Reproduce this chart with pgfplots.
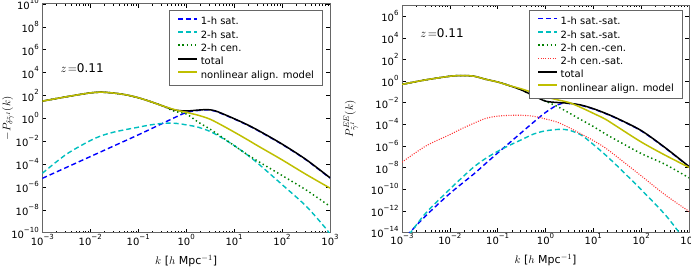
\documentclass[border=0pt]{standalone}
\usepackage{fontspec}
\setmainfont{DejaVu Sans}
\usepackage{pgfplots}
\pgfplotsset{compat=1.18}

\definecolor{cBlue}{rgb}{0,0,1}
\definecolor{cCyan}{rgb}{0,0.75,0.75}
\definecolor{cGreen}{rgb}{0,0.5,0}
\definecolor{cRed}{rgb}{1,0.2,0.2}
\definecolor{cYellow}{rgb}{0.75,0.75,0}
\definecolor{spine}{gray}{0.4}

% tick label: 10 with a raised exponent
\newcommand{\tk}[1]{10\raisebox{0.62em}{\fontsize{7}{7}\selectfont#1}}

\tikzset{
  sat1/.style={cBlue, line width=1.4pt, dash pattern=on 5pt off 3pt},
  sat2/.style={cCyan, line width=1.4pt, dash pattern=on 5pt off 3pt},
  cen2/.style={cGreen, line width=1.5pt, dash pattern=on 1.4pt off 2.8pt},
  censat/.style={cRed, line width=1.1pt, dash pattern=on 1pt off 1.4pt},
  tot/.style={black, line width=1.5pt},
  nla/.style={cYellow, line width=1.5pt},
}

\pgfplotsset{
  legend image code/.code={\path (0pt,0pt) (19pt,7pt); \draw[#1, line width=1.7pt] (0pt,3.5pt) -- (19pt,3.5pt);},
  every axis/.append style={
    scale only axis,
    xmin=1e-3, xmax=1e3,
    xtick={1e-3,1e-2,1e-1,1,1e1,1e2,1e3},
    xticklabels={\tk{−3},\tk{−2},\tk{−1},\tk{0},\tk{1},\tk{2},\tk{3}},
    tick align=inside,
    axis line style={spine, line width=0.9pt},
    major tick length=4pt, minor tick length=2pt,
    every tick/.style={black, line width=0.5pt},
    tick label style={font=\fontsize{10}{10}\selectfont},
    xticklabel style={inner sep=1pt},
    xlabel={$k$ [$h$ Mpc$^{-1}$]},
    xlabel style={at={(axis description cs:0.5,-0.124)}, anchor=center},
    label style={font=\fontsize{11}{11}\selectfont},
    legend cell align=left,
    legend style={anchor=north east, draw=spine, line width=0.8pt, fill=white,
      font=\fontsize{10}{10}\selectfont, inner xsep=8pt, inner ysep=4pt,
      row sep=0pt, column sep=2pt,
      nodes={inner sep=0.7pt, text height=7.6pt, text depth=2.2pt}},
  },
}

\begin{document}
\begin{tikzpicture}
\path[use as bounding box] (0,0) rectangle (691pt,268pt);

% ---------------- density - intrinsic shear ----------------
\begin{loglogaxis}[at={(42.3pt,35.3pt)}, anchor=south west,
  width=287.7pt, height=228.8pt,
  ymin=1e-10, ymax=1e10,
  ytick={1e-10,1e-8,1e-6,1e-4,1e-2,1,1e2,1e4,1e6,1e8,1e10},
  yticklabels={\tk{−10},\tk{−8},\tk{−6},\tk{−4},\tk{−2},\tk{0},\tk{2},\tk{4},\tk{6},\tk{8},\tk{10}},
  ylabel={$-P_{\delta\tilde{\gamma}^I}(k)$},
  ylabel style={at={(axis description cs:-0.119,0.5)}, anchor=center},
  legend style={at={(0.976,0.973)}},
]
\addplot[sat1, smooth] coordinates {
 (1e-3,5.62e-6) (3.16e-3,5.01e-5) (1e-2,4.47e-4) (3.16e-2,3.98e-3) (0.1,0.0355)
 (0.316,0.347) (0.562,1.10) (1,3.16) (1.78,4.79) (2.82,5.37) (3.98,4.27)
 (5.62,2.45) (10,0.871) (17.8,0.288) (31.6,0.0832) (100,5.25e-3) (316,2.34e-4) (1000,5.89e-6)};
\addlegendentry{1-h sat.}
\addplot[sat2, smooth] coordinates {
 (1e-3,1.55e-5) (3.16e-3,7.08e-4) (1e-2,0.0112) (0.0178,0.0316) (0.0316,0.0631)
 (0.0562,0.105) (0.1,0.166) (0.178,0.263) (0.316,0.355) (0.562,0.372) (1,0.269)
 (1.78,0.166) (3.16,0.0708) (5.62,0.0191) (10,4.17e-3) (17.8,7.59e-4) (31.6,1.12e-4)
 (100,1.62e-6) (316,2.14e-8) (794,2.75e-10) (1000,7e-11)};
\addlegendentry{2-h sat.}
\addplot[cen2, smooth] coordinates {
 (1e-3,31.6) (3.16e-3,75.9) (1e-2,166) (0.0178,191) (0.0316,158) (0.0562,112)
 (0.1,63.1) (0.178,29.5) (0.316,12.6) (0.562,4.17) (1,2.40) (1.78,0.468)
 (3.16,0.112) (5.62,0.0224) (10,4.17e-3) (17.8,7.94e-4) (31.6,1.74e-4)
 (100,1e-5) (316,5.50e-7) (1000,2.0e-8)};
\addlegendentry{2-h cen.}
\addplot[tot, smooth] coordinates {
 (1e-3,31.6) (3.16e-3,75.9) (1e-2,166) (0.0178,191) (0.0316,158) (0.0562,112)
 (0.1,63.1) (0.178,29.5) (0.316,12.6) (0.562,5.50) (1,4.37) (1.78,5.25)
 (2.82,5.75) (3.98,4.57) (5.62,2.63) (10,0.933) (17.8,0.309) (31.6,0.0891)
 (100,5.62e-3) (316,2.51e-4) (1000,6.31e-6)};
\addlegendentry{total}
\addplot[nla, smooth] coordinates {
 (1e-3,31.6) (3.16e-3,75.9) (1e-2,166) (0.0178,191) (0.0316,158) (0.0562,112)
 (0.1,63.1) (0.178,29.5) (0.316,12.6) (0.562,5.89) (1,3.31) (1.78,1.86)
 (3.16,0.832) (5.62,0.240) (10,0.0631) (17.8,0.0158) (31.6,3.80e-3)
 (100,2.34e-4) (316,1.26e-5) (1000,7.94e-7)};
\addlegendentry{nonlinear align. model}
\node[anchor=west, font=\fontsize{12}{12}\selectfont] at (rel axis cs:0.051,0.72) {$z\!=$0.11};
\end{loglogaxis}

% ---------------- intrinsic shear - intrinsic shear ----------------
\begin{loglogaxis}[at={(402pt,35.6pt)}, anchor=south west,
  width=287pt, height=226.9pt,
  ymin=1e-14, ymax=1e7,
  ytick={1e-14,1e-12,1e-10,1e-8,1e-6,1e-4,1e-2,1,1e2,1e4,1e6},
  yticklabels={\tk{−14},\tk{−12},\tk{−10},\tk{−8},\tk{−6},\tk{−4},\tk{−2},\tk{0},\tk{2},\tk{4},\tk{6}},
  ylabel={$P^{EE}_{\tilde{\gamma}^I}(k)$},
  ylabel style={at={(axis description cs:-0.178,0.5)}, anchor=center},
  legend style={at={(0.979,0.98)}},
]
\addplot[sat1, smooth] coordinates {
 (1.26e-3,5.01e-15) (3.16e-3,3.55e-13) (1e-2,3.98e-11) (0.0316,2.51e-9)
 (0.0562,2.40e-8) (0.1,2.24e-7) (0.178,2.0e-6) (0.316,1.78e-5) (0.562,1.58e-4)
 (1,1.26e-3) (1.78,6.31e-3) (2.51,9.33e-3) (3.16,8.32e-3) (5.62,5.62e-3)
 (10,2.63e-3) (17.8,1e-3) (31.6,3.31e-4) (100,2.51e-5) (316,6.61e-7) (1000,1.17e-8)};
\addlegendentry{1-h sat.-sat.}
\addplot[sat2, smooth] coordinates {
 (1.41e-3,6.31e-15) (3.16e-3,6.31e-13) (1e-2,1e-10) (0.0178,1.12e-9)
 (0.0316,1.12e-8) (0.0562,7.08e-8) (0.1,3.16e-7) (0.178,1.17e-6) (0.316,3.80e-6)
 (0.562,1.26e-5) (1,2.51e-5) (2.0,3.47e-5) (3.16,2.82e-5) (5.62,1e-5)
 (10,1.38e-6) (17.8,1.51e-7) (31.6,1.41e-8) (100,9.12e-11) (316,4.47e-13)
 (562,1.78e-14) (661,7.94e-15)};
\addlegendentry{2-h sat.-sat.}
\addplot[cen2, smooth] coordinates {
 (1e-3,0.501) (3.16e-3,1.32) (1e-2,2.82) (0.0178,3.31) (0.0316,2.88) (0.0562,1.48)
 (0.1,0.832) (0.178,0.380) (0.316,0.151) (0.562,0.0447) (1,0.0141)
 (1.78,4.47e-3) (3.16,1.10e-3) (5.62,2.57e-4) (10,6.31e-5) (17.8,1.32e-5)
 (31.6,3.16e-6) (100,2.0e-7) (316,2.0e-8) (1000,1.12e-9)};
\addlegendentry{2-h cen.-cen.}
\addplot[censat, smooth] coordinates {
 (1e-3,3.16e-8) (3.16e-3,1e-6) (1e-2,1.12e-5) (0.0178,3.98e-5) (0.0316,1.26e-4)
 (0.0562,3.55e-4) (0.1,5.75e-4) (0.178,6.76e-4) (0.316,6.92e-4) (0.562,5.62e-4)
 (1,3.16e-4) (1.78,1.58e-4) (3.16,4.79e-5) (5.62,1.26e-5) (10,3.16e-6)
 (17.8,6.61e-7) (31.6,9.55e-8) (100,1.74e-9) (316,3.02e-11) (1000,8.91e-13)};
\addlegendentry{2-h cen.-sat.}
\addplot[tot, smooth] coordinates {
 (1e-3,0.501) (3.16e-3,1.32) (1e-2,2.82) (0.0178,3.31) (0.0316,2.88) (0.0562,1.48)
 (0.1,0.832) (0.178,0.380) (0.316,0.151) (0.562,0.0447) (1,0.0141)
 (1.78,0.0105) (3.16,8.91e-3) (5.62,6.03e-3) (10,2.82e-3) (17.8,1.07e-3)
 (31.6,3.55e-4) (100,2.69e-5) (316,7.08e-7) (1000,1.26e-8)};
\addlegendentry{total}
\addplot[nla, smooth] coordinates {
 (1e-3,0.501) (3.16e-3,1.32) (1e-2,2.82) (0.0178,3.31) (0.0316,2.88) (0.0562,1.48)
 (0.1,0.832) (0.178,0.380) (0.316,0.191) (0.562,0.0832) (1,0.0355)
 (1.78,0.0186) (3.16,0.0102) (5.62,3.47e-3) (10,1.05e-3) (17.8,3.02e-4)
 (31.6,6.03e-5) (100,2.34e-6) (316,1.41e-7) (1000,1.05e-8)};
\addlegendentry{nonlinear align. model}
\node[anchor=west, font=\fontsize{12}{12}\selectfont] at (rel axis cs:0.052,0.879) {$z\!=$0.11};
\end{loglogaxis}
\end{tikzpicture}
\end{document}
